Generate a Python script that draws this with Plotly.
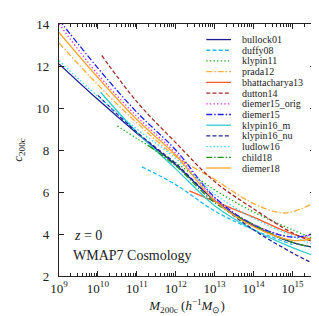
import plotly.graph_objects as go

# ---- data (log10 M200c [h^-1 Msun], c200c) ----
bullock01_logm = [9.0, 10.0, 11.0, 12.0, 13.0, 14.0, 15.0, 15.58]
bullock01_c = [12.1, 10.4, 8.8, 7.3, 5.6, 4.4, 3.6, 3.35]

duffy08_logm = [11.13, 12.0, 13.0, 14.0, 15.0]
duffy08_c = [7.2, 6.35, 5.1, 4.2, 3.5]

klypin11_logm = [10.5, 11.0, 12.0, 13.0, 14.0, 15.0, 15.58]
klypin11_c = [9.15, 8.55, 7.4, 6.1, 5.05, 4.2, 3.75]

prada12_logm = [9.0, 10.0, 11.0, 12.0, 13.0, 14.0, 14.8, 15.58]
prada12_c = [13.1, 11.1, 9.3, 7.7, 6.6, 5.45, 5.0, 5.5]

bhattacharya13_logm = [12.35, 13.0, 14.0, 15.0, 15.58]
bhattacharya13_c = [6.05, 5.55, 4.8, 4.0, 3.72]

dutton14_logm = [10.1, 11.0, 12.0, 13.0, 14.0, 15.0, 15.58]
dutton14_c = [12.5, 10.3, 8.35, 6.5, 5.2, 4.05, 3.6]

diemer15_orig_logm = [9.0, 10.0, 11.0, 12.0, 13.0, 14.0, 15.0, 15.58]
diemer15_orig_c = [14.0, 11.6, 9.6, 7.85, 5.7, 4.45, 3.85, 4.0]

diemer15_logm = [9.0, 10.0, 11.0, 12.0, 13.0, 14.0, 15.0, 15.58]
diemer15_c = [14.2, 11.9, 9.8, 8.0, 5.75, 4.45, 3.85, 4.05]

klypin16_m_logm = [10.07, 11.0, 12.0, 13.0, 14.0, 15.0, 15.58]
klypin16_m_c = [10.75, 8.85, 7.1, 5.35, 4.2, 3.35, 2.95]

klypin16_nu_logm = [10.0, 11.0, 12.0, 13.0, 14.0, 15.0, 15.58]
klypin16_nu_c = [10.6, 8.85, 7.35, 5.6, 4.2, 3.1, 2.55]

ludlow16_logm = [9.0, 10.0, 11.0, 12.0, 13.0, 14.0, 15.0, 15.58]
ludlow16_c = [12.25, 10.55, 9.0, 7.6, 5.9, 4.75, 3.9, 3.45]

child18_logm = [11.3, 12.0, 13.0, 14.0, 15.0, 15.58]
child18_c = [8.2, 7.25, 5.5, 4.45, 3.6, 3.35]

diemer18_logm = [9.0, 10.0, 11.0, 12.0, 13.0, 14.0, 15.0, 15.58]
diemer18_c = [13.6, 11.45, 9.45, 7.75, 5.6, 4.35, 3.7, 3.8]

model_names = ["bullock01", "duffy08", "klypin11", "prada12", "bhattacharya13",
               "dutton14", "diemer15_orig", "diemer15", "klypin16_m", "klypin16_nu",
               "ludlow16", "child18", "diemer18"]
model_logm = [bullock01_logm, duffy08_logm, klypin11_logm, prada12_logm,
              bhattacharya13_logm, dutton14_logm, diemer15_orig_logm, diemer15_logm,
              klypin16_m_logm, klypin16_nu_logm, ludlow16_logm, child18_logm,
              diemer18_logm]
model_c = [bullock01_c, duffy08_c, klypin11_c, prada12_c, bhattacharya13_c,
           dutton14_c, diemer15_orig_c, diemer15_c, klypin16_m_c, klypin16_nu_c,
           ludlow16_c, child18_c, diemer18_c]

x_tick_vals = [1e9, 1e10, 1e11, 1e12, 1e13, 1e14, 1e15]
x_tick_text = ["10<sup>9</sup>", "10<sup>10</sup>", "10<sup>11</sup>", "10<sup>12</sup>",
               "10<sup>13</sup>", "10<sup>14</sup>", "10<sup>15</sup>"]
y_tick_vals = [2, 4, 6, 8, 10, 12, 14]

# ---- styles ----
DASH = "4px,2.2px"
DOT = "1.4px,2.2px"
DASHDOT = "6px,2px,1.4px,2px"
styles = [
    ("#1c1c96", "solid"),
    ("#22bbff", DASH),
    ("#1faa1f", DOT),
    ("#ffae3a", DASHDOT),
    ("#ff5a28", "solid"),
    ("#a52a2a", DASH),
    ("#e033e0", DOT),
    ("#1f1fff", DASHDOT),
    ("#2ccccc", "solid"),
    ("#26269a", DASH),
    ("#33d6ff", DOT),
    ("#1f8f1f", DASHDOT),
    ("#ffa52a", "solid"),
]

FONT = "Liberation Serif"
fig = go.Figure()
for name, lm, cc, (col, dash) in zip(model_names, model_logm, model_c, styles):
    fig.add_trace(go.Scatter(
        x=[10 ** v for v in lm], y=cc, mode="lines", name=name,
        line=dict(color=col, width=1.3, dash=dash, shape="spline", smoothing=1.0),
        showlegend=False))

# manual compact legend (paper coordinates)
W, H = 319, 316
ml, mr, mt, mb = 48, 12, 9, 48
pw, ph = W - ml - mr, H - mt - mb
def px_to_paper(xp, yp):
    return (xp - ml) / pw, 1 - (yp - mt) / ph

row_h = 11.0
for i, (name, (col, dash)) in enumerate(zip(model_names, styles)):
    yp = 25 + i * row_h
    x0, y0 = px_to_paper(197, yp)
    x1, _ = px_to_paper(222, yp)
    fig.add_shape(type="line", xref="paper", yref="paper", x0=x0, x1=x1, y0=y0, y1=y0,
                  line=dict(color=col, width=1.3, dash=dash))
    xt, _ = px_to_paper(231, yp)
    fig.add_annotation(xref="paper", yref="paper", x=xt, y=y0, text=name,
                       showarrow=False, xanchor="left", yanchor="middle",
                       font=dict(family=FONT, size=10, color="#222"))

xa, ya = px_to_paper(61, 226)
fig.add_annotation(xref="paper", yref="paper", x=xa, y=ya, text="<i>z</i> = 0",
                   showarrow=False, xanchor="left", yanchor="middle",
                   font=dict(family=FONT, size=14, color="#222"))
xa, ya = px_to_paper(60, 247)
fig.add_annotation(xref="paper", yref="paper", x=xa, y=ya, text="WMAP7 Cosmology",
                   showarrow=False, xanchor="left", yanchor="middle",
                   font=dict(family=FONT, size=14, color="#222"))

minor_x = [m * 10 ** e for e in range(9, 16) for m in range(2, 10) if m * 10 ** e < 3.8e15]

fig.update_xaxes(type="log", range=[9, 15.58], tickmode="array", tickvals=x_tick_vals,
                 ticktext=x_tick_text, ticks="inside", ticklen=5, tickwidth=1,
                 tickcolor="#222", showline=True, linecolor="#222", linewidth=1.2,
                 mirror="allticks", showgrid=False, zeroline=False,
                 minor=dict(ticks="inside", ticklen=2.5, tickwidth=0.8, tickcolor="#222",
                            tickmode="array", tickvals=minor_x, showgrid=False),
                 tickfont=dict(family=FONT, size=13, color="#222"),
                 title=dict(text="<i>M</i><sub>200c</sub> (<i>h</i><sup>−1</sup><i>M</i><sub>⊙</sub>)",
                            font=dict(family=FONT, size=13, color="#222"), standoff=6))
fig.update_yaxes(range=[2, 14], tickmode="array", tickvals=y_tick_vals, ticks="inside",
                 ticklen=5, tickwidth=1, tickcolor="#222", showline=True,
                 linecolor="#222", linewidth=1.2, mirror="allticks", showgrid=False,
                 zeroline=False, tickfont=dict(family=FONT, size=13, color="#222"),
                 ticklabelstandoff=6,
                 title=dict(text="<i>c</i><sub>200c</sub>",
                            font=dict(family=FONT, size=13, color="#222"), standoff=10))

fig.update_layout(width=W, height=H, margin=dict(l=ml, r=mr, t=mt, b=mb),
                  paper_bgcolor="white", plot_bgcolor="white")
fig.write_html("out.html")
